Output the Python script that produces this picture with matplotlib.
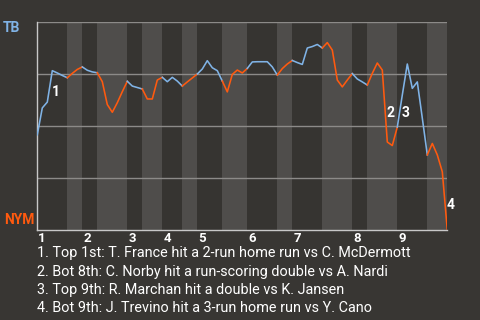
import matplotlib
matplotlib.use('Agg')
import matplotlib.pyplot as plt
import numpy as np

plt.rcParams.update({
    'font.family': ['Roboto', 'DejaVu Sans'],
    'text.color': 'white',
    'figure.facecolor': '#383633',
    'axes.facecolor': '#363431',
})

away_team = 'TB'
home_team = 'NYM'
away_color = '#80b3e6'
home_color = '#ff5a0f'

# plate appearances in each half inning (top 1st, bot 1st, ...)
half_lengths = [6, 3, 3, 6, 3, 4, 4, 3, 5, 5, 6, 3, 6, 6, 3, 6, 6, 4]

# TB win probability after each event
win_prob = [
    0.458, 0.587, 0.615, 0.766, 0.755, 0.743, 0.732, 0.753, 0.772, 0.784,
    0.768, 0.760, 0.756, 0.713, 0.603, 0.566, 0.612, 0.665, 0.715, 0.692,
    0.685, 0.678, 0.630, 0.630, 0.721, 0.734, 0.713, 0.734, 0.716, 0.692,
    0.712, 0.731, 0.750, 0.774, 0.814, 0.780, 0.766, 0.716, 0.664, 0.748,
    0.769, 0.755, 0.777, 0.808, 0.809, 0.809, 0.809, 0.784, 0.745, 0.776,
    0.798, 0.815, 0.805, 0.796, 0.875, 0.882, 0.892, 0.875, 0.901, 0.865,
    0.721, 0.688, 0.721, 0.752, 0.726, 0.712, 0.697, 0.753, 0.803, 0.769,
    0.423, 0.406, 0.495, 0.649, 0.798, 0.681, 0.712, 0.538, 0.361, 0.416,
    0.361, 0.280, 0.000,
]

# big plays: label position (event index, win prob) and description
play_x = [3.7, 70.7, 73.7, 82.7]
play_y = [0.665, 0.561, 0.561, 0.12]
play_text = [
    'Top 1st: T. France hit a 2-run home run vs C. McDermott',
    'Bot 8th: C. Norby hit a run-scoring double vs A. Nardi',
    'Top 9th: R. Marchan hit a double vs K. Jansen',
    'Bot 9th: J. Trevino hit a 3-run home run vs Y. Cano',
]

fig = plt.figure(figsize=(4.8, 3.2), dpi=100)
ax = fig.add_axes([37.3 / 480, 90 / 320, 410 / 480, 208 / 320])

edges = np.concatenate([[0], np.cumsum(half_lengths)])
total = edges[-1]
wp = np.array(win_prob)

for h in range(len(half_lengths)):
    a, b = edges[h], edges[h + 1]
    if h % 2 == 1:
        ax.axvspan(a, b, color='#4f4d4b', lw=0, zorder=0)
    xs = np.arange(a, b + 1)
    ax.plot(xs, wp[a:b + 1], color=away_color if h % 2 == 0 else home_color,
            lw=1.15, zorder=3)

for g in [0.25, 0.5, 0.75, 1.0]:
    ax.axhline(g, color='#8c8a88', lw=1, zorder=1)

ax.set_xlim(0, total)
ax.set_ylim(0, 1)
ax.set_xticks([])
ax.set_yticks([])
for side in ['top', 'right']:
    ax.spines[side].set_visible(False)
for side in ['left', 'bottom']:
    ax.spines[side].set_color('#c8c8c8')
    ax.spines[side].set_linewidth(1)

# inning numbers at the start of each top half
for inning in range(9):
    ax.text(edges[2 * inning] + 0.2, -0.012, str(inning + 1), ha='left', va='top',
            fontsize=9.5, fontweight='bold', color='white', clip_on=False)

for i, (px, py) in enumerate(zip(play_x, play_y)):
    ax.text(px, py, str(i + 1), ha='center', va='center', fontsize=10,
            fontweight='bold', color='white', zorder=4, clip_on=False)

fig.text(11 / 480, 1 - 28 / 320, away_team, ha='center', va='center',
         fontsize=10, fontweight='bold', color=away_color)
fig.text(19 / 480, 1 - 220 / 320, home_team, ha='center', va='center',
         fontsize=10, fontweight='bold', color=home_color)

for i, txt in enumerate(play_text):
    fig.text(37 / 480, 1 - (253.5 + 18.2 * i) / 320, f'{i + 1}. {txt}',
             ha='left', va='center', fontsize=10.4, color='white')

fig.savefig('out.png', dpi=100, facecolor=fig.get_facecolor())
